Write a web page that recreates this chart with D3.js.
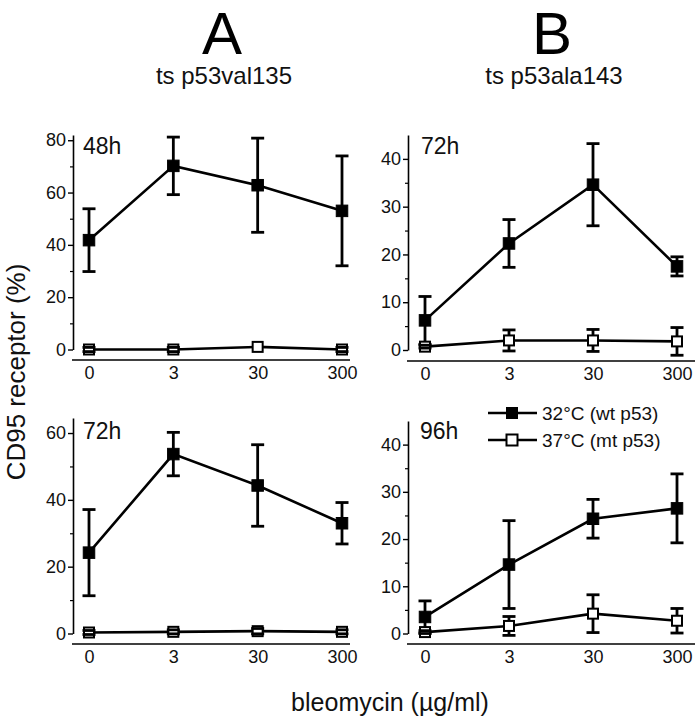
<!DOCTYPE html>
<html><head><meta charset="utf-8">
<script src="https://cdn.jsdelivr.net/npm/d3@7"></script>
<style>body{margin:0;background:#fff}svg{display:block}</style>
</head><body>
<svg id="c" width="699" height="720"></svg>
<script>
const doses = ["0", "3", "30", "300"];
const panelTitles = ["A", "B"];
const cellLines = ["ts p53val135", "ts p53ala143"];
const seriesNames = ["32°C (wt p53)", "37°C (mt p53)"];
const timeLabels = ["48h", "72h", "72h", "96h"];

// Panel A, 48h
const a48_wt = [41.8, 70.2, 62.8, 53.0];
const a48_wtErr = [12.0, 11.0, 18.0, 21.0];
const a48_mt = [0.0, 0.0, 1.0, 0.0];
const a48_mtErr = [0.8, 0.8, 0.0, 0.8];
// Panel A, 72h
const a72_wt = [24.2, 53.7, 44.3, 33.0];
const a72_wtErr = [12.9, 6.5, 12.2, 6.2];
const a72_mt = [0.3, 0.5, 0.7, 0.5];
const a72_mtErr = [0.6, 0.6, 0.8, 0.6];
// Panel B, 72h
const b72_wt = [6.2, 22.3, 34.6, 17.5];
const b72_wtErr = [5.0, 5.0, 8.6, 2.0];
const b72_mt = [0.7, 2.0, 2.0, 1.8];
const b72_mtErr = [0.3, 2.2, 2.3, 2.9];
// Panel B, 96h
const b96_wt = [3.5, 14.6, 24.3, 26.5];
const b96_wtErr = [3.4, 9.3, 4.1, 7.3];
const b96_mt = [0.3, 1.6, 4.2, 2.7];
const b96_mtErr = [0.3, 2.0, 4.0, 2.6];

const yMajorA1 = [0, 20, 40, 60, 80];
const yMajorA2 = [0, 20, 40, 60];
const yMajorB = [0, 10, 20, 30, 40];

const svg = d3.select("#c");
const FONT = "Liberation Sans, Arial, Helvetica, sans-serif";

const panels = [
  {axX: 73, xL: 72, xR: 350, x0: 89, x1: 342, y0: 349.5, yTop: 135, yMax: 82, ticks: yMajorA1, minorStep: 10, xAxisY: 360,
   wt: a48_wt, wtE: a48_wtErr, mt: a48_mt, mtE: a48_mtErr, label: timeLabels[0], lx: 83, ly: 154},
  {axX: 408, xL: 407, xR: 695, x0: 425, x1: 677, y0: 350, yTop: 135, yMax: 45, ticks: yMajorB, minorStep: 5, xAxisY: 361,
   wt: b72_wt, wtE: b72_wtErr, mt: b72_mt, mtE: b72_mtErr, label: timeLabels[1], lx: 421, ly: 154},
  {axX: 73, xL: 72, xR: 350, x0: 89, x1: 342, y0: 633.5, yTop: 418, yMax: 64.5, ticks: yMajorA2, minorStep: 10, xAxisY: 644,
   wt: a72_wt, wtE: a72_wtErr, mt: a72_mt, mtE: a72_mtErr, label: timeLabels[2], lx: 83, ly: 439},
  {axX: 408, xL: 407, xR: 695, x0: 425, x1: 677, y0: 633.5, yTop: 421, yMax: 45, ticks: yMajorB, minorStep: 5, xAxisY: 644,
   wt: b96_wt, wtE: b96_wtErr, mt: b96_mt, mtE: b96_mtErr, label: timeLabels[3], lx: 420, ly: 439}
];

panels.forEach(p => {
  const g = svg.append("g");
  const x = d3.scalePoint().domain(doses).range([p.x0, p.x1]);
  const y = d3.scaleLinear().domain([0, p.yMax]).range([p.y0, p.yTop]);

  const yAxis = d3.axisLeft(y).tickValues(p.ticks).tickSize(5).tickPadding(2).tickSizeOuter(0);
  const ya = g.append("g").attr("transform", `translate(${p.axX},0)`).call(yAxis);
  ya.select(".domain").attr("stroke", "#000").attr("stroke-width", 1.6);
  ya.selectAll(".tick line").attr("stroke", "#000").attr("stroke-width", 1.4);
  ya.selectAll(".tick text").attr("font-family", FONT).attr("font-size", 18).attr("fill", "#111");
  const minors = d3.range(p.minorStep, p.yMax, p.minorStep).filter(v => !p.ticks.includes(v));
  const ym = d3.axisLeft(y).tickValues(minors).tickSize(3).tickFormat("");
  const ymg = g.append("g").attr("transform", `translate(${p.axX},0)`).call(ym);
  ymg.select(".domain").remove();
  ymg.selectAll(".tick line").attr("stroke", "#000").attr("stroke-width", 1.2);

  const xAxis = d3.axisBottom(x).tickSize(0).tickPadding(6);
  const xa = g.append("g").attr("transform", `translate(0,${p.xAxisY})`).call(xAxis);
  xa.select(".domain").remove();
  xa.append("line").attr("x1", p.xL).attr("x2", p.xR).attr("y1", 0).attr("y2", 0)
    .attr("stroke", "#000").attr("stroke-width", 1.6);
  xa.selectAll(".tick text").attr("font-family", FONT).attr("font-size", 18).attr("fill", "#111");

  g.append("text").attr("x", p.lx).attr("y", p.ly).attr("font-family", FONT)
    .attr("font-size", 23).attr("fill", "#111").text(p.label);

  const line = d3.line().x((d, i) => x(doses[i])).y(d => y(d));
  const drawSeries = (vals, errs, filled, size) => {
    g.append("path").datum(vals).attr("d", line).attr("fill", "none")
      .attr("stroke", "#000").attr("stroke-width", 2.6);
    g.selectAll(null).data(vals).enter().append("line")
      .attr("x1", (d, i) => x(doses[i])).attr("x2", (d, i) => x(doses[i]))
      .attr("y1", (d, i) => y(d + errs[i])).attr("y2", (d, i) => y(d - errs[i]))
      .attr("stroke", "#000").attr("stroke-width", 2.8);
    g.selectAll(null).data(vals).enter().append("rect")
      .attr("x", (d, i) => x(doses[i]) - size / 2).attr("y", d => y(d) - size / 2)
      .attr("width", size).attr("height", size)
      .attr("fill", filled ? "#000" : "#fff").attr("stroke", "#000").attr("stroke-width", filled ? 1 : 2);
    [1, -1].forEach(s => {
      g.selectAll(null).data(vals.map((d, i) => [d, i]).filter(d => errs[d[1]] > 0)).enter().append("line")
        .attr("x1", d => x(doses[d[1]]) - 6.5).attr("x2", d => x(doses[d[1]]) + 6.5)
        .attr("y1", d => y(d[0] + s * errs[d[1]])).attr("y2", d => y(d[0] + s * errs[d[1]]))
        .attr("stroke", "#000").attr("stroke-width", 2.8);
    });
  };
  drawSeries(p.wt, p.wtE, true, 11.5);
  drawSeries(p.mt, p.mtE, false, 10);
});

// Legend in panel B 96h
const legend = svg.append("g");
const legendY = [413, 440];
seriesNames.forEach((name, i) => {
  const ly = legendY[i];
  legend.append("line").attr("x1", 488).attr("x2", 537).attr("y1", ly).attr("y2", ly)
    .attr("stroke", "#000").attr("stroke-width", 2.6);
  legend.append("rect").attr("x", 512 - 5.5).attr("y", ly - 5.5).attr("width", 11).attr("height", 11)
    .attr("fill", i === 0 ? "#000" : "#fff").attr("stroke", "#000").attr("stroke-width", i === 0 ? 1 : 2);
  legend.append("text").attr("x", 542).attr("y", ly).attr("dy", "0.35em")
    .attr("font-family", FONT).attr("font-size", 19).attr("fill", "#111").text(name);
});

// Titles
const titleX = [222, 552];
panelTitles.forEach((t, i) => {
  svg.append("text").attr("x", titleX[i]).attr("y", 54).attr("text-anchor", "middle")
    .attr("font-family", FONT).attr("font-size", 60).attr("fill", "#000").text(t);
  svg.append("text").attr("x", titleX[i] + 2).attr("y", 84).attr("text-anchor", "middle")
    .attr("font-family", FONT).attr("font-size", 24).attr("fill", "#111").text(cellLines[i]);
});

// Axis titles
svg.append("text").attr("transform", "translate(25,372) rotate(-90)").attr("text-anchor", "middle")
  .attr("font-family", FONT).attr("font-size", 26).attr("fill", "#111").text("CD95 receptor (%)");
svg.append("text").attr("x", 390).attr("y", 711).attr("text-anchor", "middle")
  .attr("font-family", FONT).attr("font-size", 25).attr("fill", "#111").text("bleomycin (µg/ml)");
</script>
</body></html>
